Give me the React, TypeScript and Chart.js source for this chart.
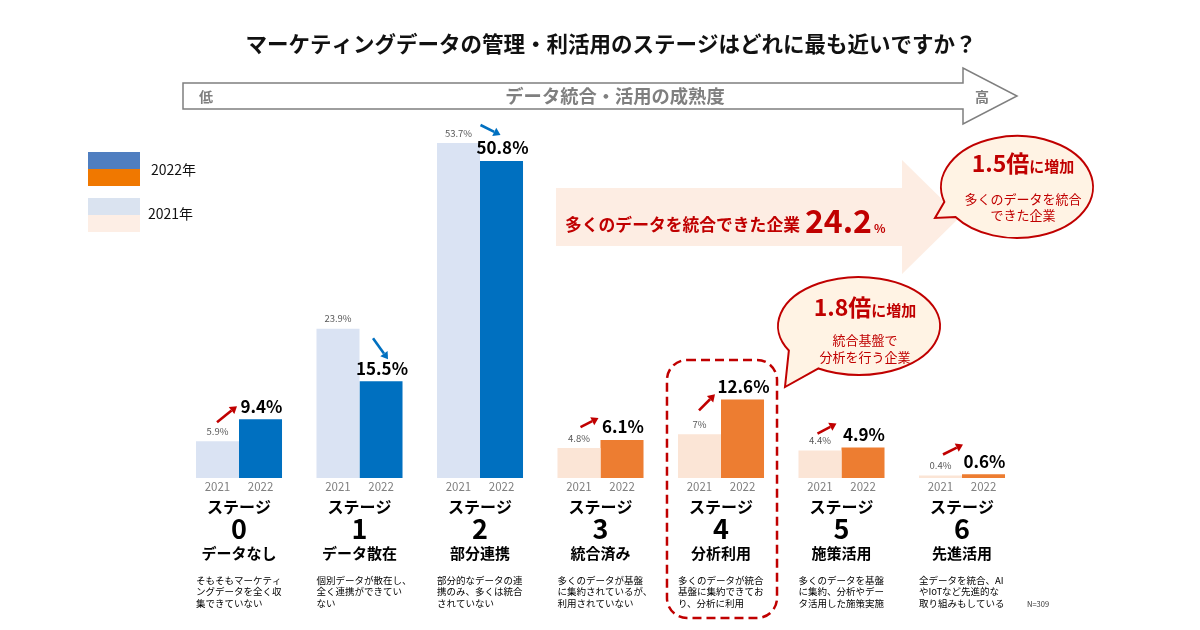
import React, { useEffect, useRef } from "react";
import { Chart, registerables } from "chart.js";

Chart.register(...registerables);

// ---------- data ----------
const STAGE_NUMBERS = ["0", "1", "2", "3", "4", "5", "6"];
const STAGE_NAMES = ["データなし", "データ散在", "部分連携", "統合済み", "分析利用", "施策活用", "先進活用"];
const VALUES_2021 = [5.9, 23.9, 53.7, 4.8, 7, 4.4, 0.4];
const VALUES_2022 = [9.4, 15.5, 50.8, 6.1, 12.6, 4.9, 0.6];
const LABELS_2021 = ["5.9%", "23.9%", "53.7%", "4.8%", "7%", "4.4%", "0.4%"];
const LABELS_2022 = ["9.4%", "15.5%", "50.8%", "6.1%", "12.6%", "4.9%", "0.6%"];
const YEAR_LABELS = ["2021", "2022"];
const LEGEND_LABELS = ["2022年", "2021年"];
const DESCRIPTIONS = [
  ["そもそもマーケティ", "ングデータを全く収", "集できていない"],
  ["個別データが散在し、", "全く連携ができてい", "ない"],
  ["部分的なデータの連", "携のみ、多くは統合", "されていない"],
  ["多くのデータが基盤", "に集約されているが、", "利用されていない"],
  ["多くのデータが統合", "基盤に集約できてお", "り、分析に利用"],
  ["多くのデータを基盤", "に集約、分析やデー", "タ活用した施策実施"],
  ["全データを統合、AI", "やIoTなど先進的な", "取り組みもしている"],
];
const TITLE = "マーケティングデータの管理・利活用のステージはどれに最も近いですか？";
const AXIS_TITLE = "データ統合・活用の成熟度";
const AXIS_LOW = "低";
const AXIS_HIGH = "高";
const STAGE_WORD = "ステージ";
const HIGHLIGHT_TEXT = "多くのデータを統合できた企業";
const HIGHLIGHT_VALUE = "24.2";
const BUBBLE1 = { big: "1.5倍", small: "に増加", lines: ["多くのデータを統合", "できた企業"] };
const BUBBLE2 = { big: "1.8倍", small: "に増加", lines: ["統合基盤で", "分析を行う企業"] };
const N_NOTE = "N=309";

// ---------- styles / layout ----------
const FONT = '"Noto Sans CJK JP", "Noto Sans", sans-serif';
const RED = "#C00000";
const BLUE_2022 = "#0070C0";
const BLUE_2021 = "#DAE3F3";
const ORANGE_2022 = "#ED7D31";
const ORANGE_2021 = "#FBE5D6";
const BLUE_STAGE_COUNT = 3;
// arrow: direction, head offset (up: from group centre / 2021 label; down: from 2022 bar / 2022 label), tail offset from head
const ARROWS = [
  { dir: "up", hx: -2, hy: -25, tx: -20, ty: 16 },
  { dir: "down", hx: 7, hy: -9, tx: -15, ty: -21 },
  { dir: "down", hx: -1, hy: -13, tx: -20, ty: -10 },
  { dir: "up", hx: -2, hy: -20, tx: -18, ty: 9 },
  { dir: "up", hx: -6, hy: -30, tx: -16, ty: 16 },
  { dir: "up", hx: -5, hy: -17, tx: -19, ty: 10 },
  { dir: "up", hx: 1, hy: -21, tx: -20, ty: 10 },
];

function drawArrow(ctx: CanvasRenderingContext2D, x1: number, y1: number, x2: number, y2: number, color: string) {
  const ang = Math.atan2(y2 - y1, x2 - x1);
  const hl = 7;
  const hw = 4.5;
  const bx = x2 - hl * Math.cos(ang);
  const by = y2 - hl * Math.sin(ang);
  ctx.save();
  ctx.strokeStyle = color;
  ctx.fillStyle = color;
  ctx.lineWidth = 2.6;
  ctx.beginPath();
  ctx.moveTo(x1, y1);
  ctx.lineTo(bx, by);
  ctx.stroke();
  ctx.beginPath();
  ctx.moveTo(x2, y2);
  ctx.lineTo(bx + hw * Math.sin(ang), by - hw * Math.cos(ang));
  ctx.lineTo(bx - hw * Math.sin(ang), by + hw * Math.cos(ang));
  ctx.closePath();
  ctx.fill();
  ctx.restore();
}

function drawBubble(
  ctx: CanvasRenderingContext2D,
  cx: number, cy: number, rx: number, ry: number,
  a1: number, a2: number, tipX: number, tipY: number,
  content: { big: string; small: string; lines: string[] },
  bigY: number, lineY: number[]
) {
  ctx.save();
  ctx.beginPath();
  ctx.ellipse(cx, cy, rx, ry, 0, (a1 * Math.PI) / 180, ((a2 + 360) * Math.PI) / 180);
  ctx.lineTo(tipX, tipY);
  ctx.closePath();
  ctx.fillStyle = "#FFF3E4";
  ctx.fill();
  ctx.strokeStyle = RED;
  ctx.lineWidth = 2;
  ctx.stroke();
  ctx.fillStyle = RED;
  ctx.textBaseline = "alphabetic";
  ctx.font = `bold 23px ${FONT}`;
  const w1 = ctx.measureText(content.big).width;
  ctx.font = `bold 15px ${FONT}`;
  const w2 = ctx.measureText(content.small).width;
  const start = cx + 6 - (w1 + w2) / 2;
  ctx.font = `bold 23px ${FONT}`;
  ctx.textAlign = "left";
  ctx.fillText(content.big, start, bigY);
  ctx.font = `bold 15px ${FONT}`;
  ctx.fillText(content.small, start + w1, bigY);
  ctx.font = `13px ${FONT}`;
  ctx.textAlign = "center";
  ctx.textBaseline = "middle";
  content.lines.forEach((l, i) => ctx.fillText(l, cx + 6, lineY[i]));
  ctx.restore();
}

const overlayPlugin = {
  id: "overlay",
  beforeDraw(chart: any) {
    const ctx = chart.ctx as CanvasRenderingContext2D;
    ctx.save();
    ctx.fillStyle = "#FFFFFF";
    ctx.fillRect(0, 0, chart.width, chart.height);
    ctx.restore();
  },
  afterDraw(chart: any) {
    const ctx = chart.ctx as CanvasRenderingContext2D;
    const m21 = chart.getDatasetMeta(0).data;
    const m22 = chart.getDatasetMeta(1).data;
    ctx.save();

    // Title
    ctx.fillStyle = "#111";
    ctx.font = `bold 21.5px ${FONT}`;
    ctx.textAlign = "center";
    ctx.textBaseline = "middle";
    ctx.fillText(TITLE, 611, 44);

    // Maturity outline arrow
    ctx.beginPath();
    ctx.moveTo(183, 83);
    ctx.lineTo(963, 83);
    ctx.lineTo(963, 68);
    ctx.lineTo(1017, 96);
    ctx.lineTo(963, 124);
    ctx.lineTo(963, 109);
    ctx.lineTo(183, 109);
    ctx.closePath();
    ctx.fillStyle = "#FFFFFF";
    ctx.fill();
    ctx.strokeStyle = "#7F7F7F";
    ctx.lineWidth = 1.5;
    ctx.stroke();
    ctx.fillStyle = "#7F7F7F";
    ctx.font = `bold 14px ${FONT}`;
    ctx.fillText(AXIS_LOW, 206, 97);
    ctx.fillText(AXIS_HIGH, 982, 97);
    ctx.font = `bold 18.3px ${FONT}`;
    ctx.fillText(AXIS_TITLE, 615, 96);

    // Legend
    ctx.fillStyle = "#4F7EC0";
    ctx.fillRect(88, 152, 52, 17);
    ctx.fillStyle = "#F07800";
    ctx.fillRect(88, 169, 52, 17);
    ctx.fillStyle = "#DAE3F0";
    ctx.fillRect(88, 198, 52, 17);
    ctx.fillStyle = "#FDEEE5";
    ctx.fillRect(88, 215, 52, 17);
    ctx.fillStyle = "#111";
    ctx.font = `14px ${FONT}`;
    ctx.textAlign = "left";
    ctx.fillText(LEGEND_LABELS[0], 151, 170);
    ctx.fillText(LEGEND_LABELS[1], 148, 214);

    // Pale highlight arrow
    ctx.beginPath();
    ctx.moveTo(556, 188);
    ctx.lineTo(902, 188);
    ctx.lineTo(902, 160);
    ctx.lineTo(960, 217);
    ctx.lineTo(902, 274);
    ctx.lineTo(902, 246);
    ctx.lineTo(556, 246);
    ctx.closePath();
    ctx.fillStyle = "#FDEDE3";
    ctx.fill();
    ctx.fillStyle = RED;
    ctx.textBaseline = "alphabetic";
    ctx.font = `bold 16.8px ${FONT}`;
    let x = 565;
    ctx.fillText(HIGHLIGHT_TEXT, x, 231);
    x += ctx.measureText(HIGHLIGHT_TEXT).width + 5;
    ctx.font = `bold 32px ${FONT}`;
    ctx.fillText(HIGHLIGHT_VALUE, x, 233);
    x += ctx.measureText(HIGHLIGHT_VALUE).width + 2;
    ctx.font = `bold 12px ${FONT}`;
    ctx.fillText("%", x, 233);

    // Bubbles
    drawBubble(ctx, 1017, 187, 76, 51, 163, 144, 935, 218, BUBBLE1, 172, [199, 215]);
    drawBubble(ctx, 859, 326, 81, 49, 150, 120, 785, 387, BUBBLE2, 316, [340, 357]);

    // Dashed highlight box around stage 4
    const b4l = m21[4].x - m21[4].width / 2;
    const b4r = m22[4].x + m22[4].width / 2;
    ctx.save();
    ctx.setLineDash([9, 5]);
    ctx.strokeStyle = RED;
    ctx.lineWidth = 2.5;
    ctx.beginPath();
    (ctx as any).roundRect(b4l - 11, 360, b4r - b4l + 24, 258, 20);
    ctx.stroke();
    ctx.restore();

    // per stage labels
    for (let i = 0; i < STAGE_NUMBERS.length; i++) {
      const e1 = m21[i];
      const e2 = m22[i];
      const cx = (e1.x + e2.x) / 2;
      const y21 = e1.y - 10;
      ctx.fillStyle = "#595959";
      ctx.font = `9.5px ${FONT}`;
      ctx.textAlign = "center";
      ctx.textBaseline = "middle";
      ctx.fillText(LABELS_2021[i], e1.x, y21);
      const y22 = e2.y - 13;
      ctx.fillStyle = "#000";
      ctx.font = `bold 17px ${FONT}`;
      ctx.fillText(LABELS_2022[i], e2.x + 1, y22);
      const a = ARROWS[i];
      if (a.dir === "up") {
        const hx = cx + a.hx;
        const hy = y21 + a.hy;
        drawArrow(ctx, hx + a.tx, hy + a.ty, hx, hy, RED);
      } else {
        const hx = e2.x + a.hx;
        const hy = y22 + a.hy;
        drawArrow(ctx, hx + a.tx, hy + a.ty, hx, hy, BLUE_2022);
      }
      ctx.fillStyle = "#7F7F7F";
      ctx.font = `11.5px ${FONT}`;
      ctx.fillText(YEAR_LABELS[0], e1.x, 487);
      ctx.fillText(YEAR_LABELS[1], e2.x, 487);
      ctx.fillStyle = "#000";
      ctx.font = `bold 16px ${FONT}`;
      ctx.fillText(STAGE_WORD, cx, 507);
      ctx.font = `bold 27px ${FONT}`;
      ctx.fillText(STAGE_NUMBERS[i], cx, 529);
      ctx.font = `bold 15px ${FONT}`;
      ctx.fillText(STAGE_NAMES[i], cx, 553);
      ctx.font = `9.5px ${FONT}`;
      ctx.textAlign = "left";
      const left = e1.x - e1.width / 2;
      DESCRIPTIONS[i].forEach((line, k) => ctx.fillText(line, left, 580 + k * 11.5));
    }

    ctx.fillStyle = "#333";
    ctx.font = `7.5px ${FONT}`;
    ctx.textAlign = "left";
    ctx.fillText(N_NOTE, 1027, 604);
    ctx.restore();
  },
};

export default function App() {
  const ref = useRef<HTMLCanvasElement | null>(null);
  useEffect(() => {
    if (!ref.current) return;
    const colors21 = STAGE_NUMBERS.map((_, i) => (i < BLUE_STAGE_COUNT ? BLUE_2021 : ORANGE_2021));
    const colors22 = STAGE_NUMBERS.map((_, i) => (i < BLUE_STAGE_COUNT ? BLUE_2022 : ORANGE_2022));
    const chart = new Chart(ref.current, {
      type: "bar",
      data: {
        labels: STAGE_NUMBERS,
        datasets: [
          { label: YEAR_LABELS[0], data: VALUES_2021, backgroundColor: colors21, categoryPercentage: 0.714, barPercentage: 1.0 },
          { label: YEAR_LABELS[1], data: VALUES_2022, backgroundColor: colors22, categoryPercentage: 0.714, barPercentage: 1.0 },
        ],
      },
      options: {
        responsive: false,
        animation: false,
        devicePixelRatio: 1,
        layout: { padding: { left: 178.75, right: 177.75, top: 103.6, bottom: 152 } },
        plugins: { legend: { display: false }, tooltip: { enabled: false } },
        scales: {
          x: { display: false, grid: { display: false } },
          y: { display: false, min: 0, max: 60 },
        },
      },
      plugins: [overlayPlugin],
    });
    return () => chart.destroy();
  }, []);
  return (
    <div style={{ position: "absolute", left: 0, top: 0, width: 1200, height: 630 }}>
      <canvas ref={ref} width={1200} height={630} style={{ width: 1200, height: 630 }} />
    </div>
  );
}
